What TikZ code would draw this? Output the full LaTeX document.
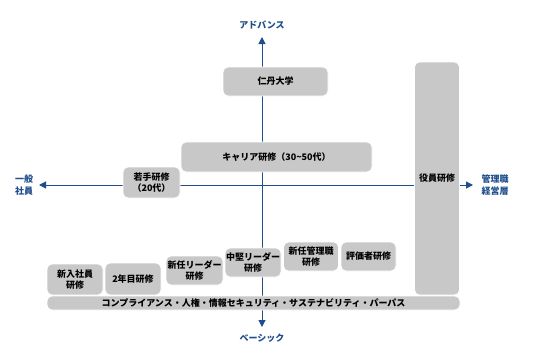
\documentclass[tikz,border=0pt]{standalone}
\usepackage{fontspec}
\setmainfont{Noto Sans CJK JP}
\usetikzlibrary{arrows.meta,backgrounds}
\definecolor{axisblue}{HTML}{1F4E8C}
\definecolor{boxgray}{HTML}{C8C8C8}
\begin{document}
\begin{tikzpicture}[x=1pt, y=-1pt,
            course/.style={rectangle, rounded corners=5pt, fill=boxgray, draw=white, line width=0.8pt, align=center, inner sep=0pt, font=\fontsize{9}{11}\selectfont\bfseries},
            axis/.style={draw=axisblue, line width=1pt, >={Triangle[length=7pt, width=7pt]}},
            pole/.style={text=axisblue, align=center, inner sep=0pt, font=\fontsize{9}{12}\selectfont\bfseries}
            ]
            \useasboundingbox (0,0) rectangle (533,359);
            % axis ends and labels
            \coordinate (top) at (262,37);
            \coordinate (bottom) at (262,327);
            \coordinate (left) at (39,185);
            \coordinate (right) at (473,185);
            \node[pole] (advance) at (262,25) {アドバンス};
            \node[pole] (basic) at (262,338) {ベーシック};
            \node[pole] (general) at (24,185) {一般\\社員};
            \node[pole] (manager) at (495,185) {管理職\\経営層};

            % courses
            \node[course, minimum width=105pt, minimum height=29pt] (univ) at (275.5,81.5) {仁丹大学};
            \node[course, minimum width=191pt, minimum height=30pt] (career) at (276.5,157) {キャリア研修（30\textasciitilde 50代）};
            \node[course, minimum width=57pt, minimum height=31pt] (young) at (151.5,182.5) {若手研修\\（20代）};
            \node[course, minimum width=45pt, minimum height=233pt] (exec) at (437,178.5) {役員研修};
            \node[course, minimum width=56pt, minimum height=31pt] (newhire) at (75,279.5) {新入社員\\研修};
            \node[course, minimum width=56pt, minimum height=32pt] (second) at (133,279) {2年目研修};
            \node[course, minimum width=57pt, minimum height=29pt] (newlead) at (194.5,270.5) {新任リーダー\\研修};
            \node[course, minimum width=56pt, minimum height=29pt] (midlead) at (253,262.5) {中堅リーダー\\研修};
            \node[course, minimum width=55pt, minimum height=29pt] (newmgr) at (311,256.5) {新任管理職\\研修};
            \node[course, minimum width=55pt, minimum height=29pt] (rater) at (368.5,256.5) {評価者研修};
            \node[course, minimum width=413pt, minimum height=14pt] (common) at (253.5,303) {コンプライアンス・人権・情報セキュリティ・サステナビリティ・パーパス};

            \begin{scope}[on background layer]
            \fill[white] (0,0) rectangle (533,359);
            \draw[axis, <->] (bottom) -- (top);
            \draw[axis, <-] (left) -- (left -| exec.center);
            \end{scope}
            \draw[axis, ->] (left -| exec.east) -- (right);
            \end{tikzpicture}
\end{document}
